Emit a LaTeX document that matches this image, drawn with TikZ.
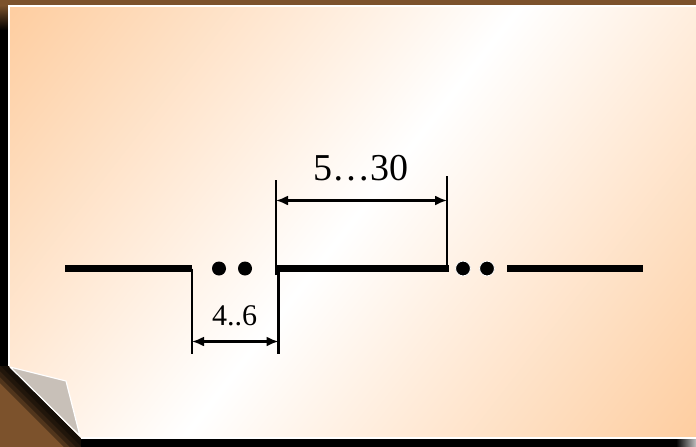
\documentclass[tikz,border=0pt]{standalone}
\usepackage{fontspec}
\setmainfont{Liberation Serif}
\usepackage{tikz}
\usetikzlibrary{arrows.meta}
\usetikzlibrary{positioning}
\usepackage{xcolor}

\definecolor{frame}{RGB}{124,82,44}
\definecolor{peach}{RGB}{254,200,150}
\definecolor{fold}{RGB}{200,192,184}

\begin{document}
\begin{tikzpicture}[x=1pt, y=-1pt,
    bar/.style={line width=7.5pt},
    dimline/.style={line width=2.2pt},
    dimarrow/.style={line width=2.2pt, {Latex[length=12pt,width=10pt]}-{Latex[length=12pt,width=10pt]}},
    dot/.style={fill=black},
    haloed/.style={fill=black, draw=white, line width=0.8pt},
    biglabel/.style={anchor=base, inner sep=0pt, font=\fontsize{38}{40}\selectfont},
    smalllabel/.style={anchor=base, inner sep=0pt, font=\fontsize{30}{32}\selectfont}]
    % 1. Frame behind the sheet
    \useasboundingbox (0,0) rectangle (696,447);
    \fill[frame] (0,0) rectangle (696,447);
    \shade[top color=frame, bottom color=black] (0,5) rectangle (9,30);
    \fill[black] (0,30) rectangle (9,366);
    \fill[black] (81,438) rectangle (696,447);
    \foreach \w in {8,14,20,26} {
        \fill[black, opacity=0.35] (0,357) -- (90,447) -- ({90-\w},447) -- (0,{357+\w}) -- cycle;
    }
    \shade[left color=black, right color=gray!50] (676,438) rectangle (696,447);

    % 2. The sheet, with its shading
    \begin{scope}
        \clip (9,6) -- (696,6) -- (696,438) -- (81,438) -- (9,366) -- cycle;
        \shade[left color=peach, right color=peach, middle color=white, shading angle=52]
            (-93,-223) rectangle (797,667);
    \end{scope}
    \draw[white, line width=1.2pt] (696,6) -- (9,6) -- (9,366);
    \draw[white, line width=1.2pt] (81,438) -- (696,438);

    % 3. Folded corner
    \filldraw[fill=fold, draw=white, line width=1.2pt, line join=round]
        (10,367) -- (66,381) -- (80,436) -- cycle;

    % 4. Ends of the bars
    \coordinate (l0) at (65,268.5);
    \coordinate (l1) at (192,268.5);
    \coordinate (m0) at (275,268.5);
    \coordinate (m1) at (449,268.5);
    \coordinate (r0) at (507,268.5);
    \coordinate (r1) at (643,268.5);
    \draw[bar] (l0) -- (l1);
    \draw[bar] (m0) -- (m1);
    \draw[bar] (r0) -- (r1);

    % 5. Dots in the gaps
    \foreach \x in {219,245} {
        \fill[dot] (\x,268.5) circle[radius=7pt];
    }
    \foreach \x in {463,487} {
        \filldraw[haloed] (\x,268.5) circle[radius=7.4pt];
    }

    % 6. Gap dimension below the line
    \coordinate (gl) at (192,268.5);
    \coordinate (gl1) at (192,354);
    \coordinate (gr) at (278.5,268.5);
    \coordinate (gr1) at (278.5,354);
    \coordinate (ga) at (192,341.5);
    \coordinate (gb) at (278.5,341.5);
    \draw[dimline] (gl) -- (gl1);
    \draw[dimline] (gr) -- (gr1);
    \draw[dimarrow] (ga) -- (gb);
    \node[smalllabel] (gap) at (234.5,325) {4..6};

    % 7. Bar dimension above the line
    \coordinate (bl) at (276,275);
    \coordinate (bl1) at (276,180);
    \coordinate (br) at (447,268.5);
    \coordinate (br1) at (447,176);
    \coordinate (ba) at (276,200.5);
    \coordinate (bb) at (447,200.5);
    \draw[dimline] (bl) -- (bl1);
    \draw[dimline] (br) -- (br1);
    \draw[dimarrow] (ba) -- (bb);
    \node[biglabel] (length) at (361,180.7) {5…30};

\end{tikzpicture}
\end{document}
